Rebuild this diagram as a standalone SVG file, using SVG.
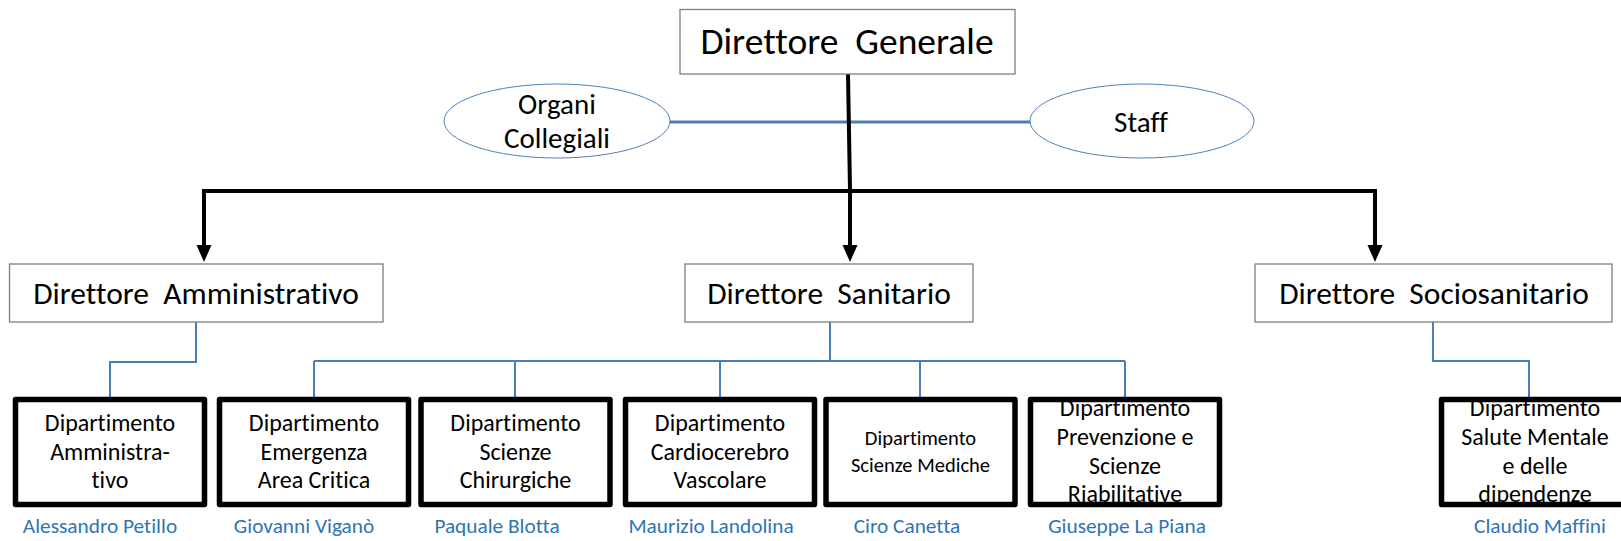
<svg xmlns="http://www.w3.org/2000/svg" width="1621" height="541" viewBox="0 0 1621 541">
<style>
text{font-family:Carlito,Lato,"Liberation Sans",sans-serif;fill:#000;text-anchor:middle;white-space:pre;font-variant-ligatures:none}
.dir{fill:#fff;stroke:#7f7f7f;stroke-width:1.3}
.ell{fill:#fff;stroke:#4f81bd;stroke-width:1}
.dept{fill:none;stroke:#000;stroke-width:5.5;stroke-linejoin:round}
.bg{fill:#fff}
.blk{fill:none;stroke:#000;stroke-width:4}
.blu{fill:none;stroke:#4a7ebb;stroke-width:2}
.bluT{fill:none;stroke:#4a7ebb;stroke-width:3}
.big{font-size:37.5px}
.mid{font-size:31.5px}
.ell-t{font-size:29px}
.dt{font-size:24px}
.dts{font-size:20.5px}
.name{font-size:21.3px;fill:#2e75b6}
</style>
<g id="connectors">
<line class="bluT" x1="670" y1="122" x2="1031" y2="122"/>
<path class="blk" d="M848,74 L850,190"/>
<path class="blk" d="M850,190 L850,246"/>
<path class="blk" d="M204,191 L1375,191"/>
<path class="blk" d="M204,189 L204,246"/>
<path class="blk" d="M1375,189 L1375,246"/>
<path d="M196.5,245 L211.5,245 L204,262 Z" fill="#000"/>
<path d="M842.5,245 L857.5,245 L850,262 Z" fill="#000"/>
<path d="M1367.5,245 L1382.5,245 L1375,262 Z" fill="#000"/>
<path class="blu" d="M196,322 L196,362 L110,362 L110,397"/>
<path class="blu" d="M830,322 L830,361"/>
<path class="blu" d="M314,361 L1125,361"/>
<path class="blu" d="M314,361 L314,397 M515,361 L515,397 M720,361 L720,397 M920,361 L920,397 M1125,361 L1125,397"/>
<path class="blu" d="M1433,322 L1433,361 L1529,361 L1529,397"/>
</g>
<g id="dg">
<rect class="dir" x="680" y="9.5" width="335" height="64.5"/>
<text class="big" x="847" y="54">Direttore  Generale</text>
</g>
<g id="organi">
<ellipse class="ell" cx="557" cy="121" rx="113" ry="37"/>
<text class="ell-t" x="557" y="114">Organi</text>
<text class="ell-t" x="557" y="148">Collegiali</text>
</g>
<g id="staff">
<ellipse class="ell" cx="1142" cy="121" rx="112" ry="37"/>
<text class="ell-t" x="1141" y="132">Staff</text>
</g>
<g id="da">
<rect class="dir" x="9.5" y="264" width="373.5" height="58"/>
<text class="mid" x="196" y="304">Direttore  Amministrativo</text>
</g>
<g id="ds">
<rect class="dir" x="685" y="264" width="288" height="58"/>
<text class="mid" x="829" y="304">Direttore  Sanitario</text>
</g>
<g id="dss">
<rect class="dir" x="1255" y="264" width="357" height="58"/>
<text class="mid" x="1434" y="304">Direttore  Sociosanitario</text>
</g>
<g id="dep1">
<rect class="bg" x="15.5" y="399.5" width="189" height="105"/>
<text class="dt" x="110" y="431">Dipartimento</text>
<text class="dt" x="110" y="460">Amministra-</text>
<text class="dt" x="110" y="488">tivo</text>
<rect class="dept" x="15.5" y="399.5" width="189" height="105"/>
<text class="name" x="100" y="533">Alessandro Petillo</text>
</g>
<g id="dep2">
<rect class="bg" x="219.5" y="399.5" width="189" height="105"/>
<text class="dt" x="314" y="431">Dipartimento</text>
<text class="dt" x="314" y="460">Emergenza</text>
<text class="dt" x="314" y="488">Area Critica</text>
<rect class="dept" x="219.5" y="399.5" width="189" height="105"/>
<text class="name" x="304" y="533">Giovanni Viganò</text>
</g>
<g id="dep3">
<rect class="bg" x="421" y="399.5" width="189" height="105"/>
<text class="dt" x="515.5" y="431">Dipartimento</text>
<text class="dt" x="515.5" y="460">Scienze</text>
<text class="dt" x="515.5" y="488">Chirurgiche</text>
<rect class="dept" x="421" y="399.5" width="189" height="105"/>
<text class="name" x="497" y="533">Paquale Blotta</text>
</g>
<g id="dep4">
<rect class="bg" x="625.5" y="399.5" width="189" height="105"/>
<text class="dt" x="720" y="431">Dipartimento</text>
<text class="dt" x="720" y="460">Cardiocerebro</text>
<text class="dt" x="720" y="488">Vascolare</text>
<rect class="dept" x="625.5" y="399.5" width="189" height="105"/>
<text class="name" x="711" y="533">Maurizio Landolina</text>
</g>
<g id="dep5">
<rect class="bg" x="826" y="399.5" width="189" height="105"/>
<text class="dts" x="920.5" y="445">Dipartimento</text>
<text class="dts" x="920.5" y="472">Scienze Mediche</text>
<rect class="dept" x="826" y="399.5" width="189" height="105"/>
<text class="name" x="907" y="533">Ciro Canetta</text>
</g>
<g id="dep6">
<rect class="bg" x="1030.5" y="399.5" width="189" height="105"/>
<text class="dt" x="1125" y="416">Dipartimento</text>
<text class="dt" x="1125" y="445">Prevenzione e</text>
<text class="dt" x="1125" y="474">Scienze</text>
<text class="dt" x="1125" y="502">Riabilitative</text>
<rect class="dept" x="1030.5" y="399.5" width="189" height="105"/>
<text class="name" x="1127" y="533">Giuseppe La Piana</text>
</g>
<g id="dep7">
<rect class="bg" x="1441.5" y="399.5" width="189" height="105"/>
<text class="dt" x="1535" y="416">Dipartimento</text>
<text class="dt" x="1535" y="445">Salute Mentale</text>
<text class="dt" x="1535" y="474">e delle</text>
<text class="dt" x="1535" y="502">dipendenze</text>
<rect class="dept" x="1441.5" y="399.5" width="189" height="105"/>
<text class="name" x="1540" y="533">Claudio Maffini</text>
</g>
</svg>
